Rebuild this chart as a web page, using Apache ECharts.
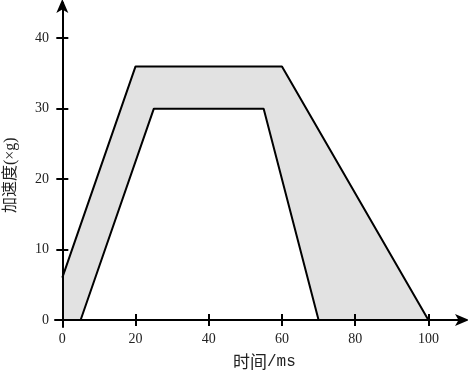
<!DOCTYPE html>
<html><head><meta charset="utf-8">
<script src="https://cdn.jsdelivr.net/npm/echarts@6/dist/echarts.min.js"></script>
<style>html,body{margin:0;padding:0;background:#fff}#c{width:468px;height:371px}</style>
</head><body><div id="c"></div>
<script>
const upperX = [0, 20, 60, 100];
const upperY = [6, 36, 36, 0];
const lowerX = [0, 5, 25, 55, 70];
const lowerY = [0, 0, 30, 30, 0];
const xTicks = [0, 20, 40, 60, 80, 100];
const yTicks = [0, 10, 20, 30, 40];
const xNameCJK = '时间';
const xNameUnit = '/ms';
const yName = '加速度(×g)';

const font = '"Liberation Serif", "Noto Sans CJK SC", serif';
const chart = echarts.init(document.getElementById('c'));
const axisCommon = {
  type: 'value', z: 5,
  splitLine: {show: false},
  axisLine: {onZero: true, lineStyle: {color: '#000', width: 2}},
};
chart.setOption({
  animation: false,
  grid: {left: 55, right: 3, top: 3, bottom: 44},
  xAxis: [
    Object.assign({}, axisCommon, {
      min: -2, max: 110, position: 'bottom',
      axisLine: {onZero: true, symbol: ['none', 'arrow'], symbolSize: [9, 14], symbolOffset: [0, 4], lineStyle: {color: '#000', width: 2}},
      axisTick: {show: true, inside: false, length: 6, customValues: xTicks, lineStyle: {color: '#000', width: 2}},
      axisLabel: {customValues: xTicks, margin: 5, color: '#222', fontSize: 14, fontFamily: font}
    }),
    Object.assign({}, axisCommon, {
      min: -2, max: 110, position: 'bottom',
      axisLine: {show: false, onZero: true, onZeroAxisIndex: 0},
      axisTick: {show: true, inside: true, length: 6, customValues: xTicks, lineStyle: {color: '#000', width: 2}},
      axisLabel: {show: false}
    })
  ],
  yAxis: [
    Object.assign({}, axisCommon, {
      min: -1, max: 45, position: 'left',
      axisLine: {onZero: true, symbol: ['none', 'arrow'], symbolSize: [9, 14], symbolOffset: [0, 4], lineStyle: {color: '#000', width: 2}},
      axisTick: {show: true, inside: false, length: 6, customValues: yTicks, lineStyle: {color: '#000', width: 2}},
      axisLabel: {customValues: yTicks, margin: 6, color: '#222', fontSize: 14, fontFamily: font}
    }),
    Object.assign({}, axisCommon, {
      min: -1, max: 45, position: 'left',
      axisLine: {show: false, onZero: true, onZeroAxisIndex: 0},
      axisTick: {show: true, inside: true, length: 6, customValues: yTicks, lineStyle: {color: '#000', width: 2}},
      axisLabel: {show: false}
    })
  ],
  series: [
    {
      type: 'line', xAxisIndex: 0, yAxisIndex: 0, symbol: 'none', z: 2,
      data: upperX.map((x, i) => [x, upperY[i]]),
      lineStyle: {color: '#000', width: 2},
      areaStyle: {color: '#e2e2e2', opacity: 1, origin: 0}
    },
    {
      type: 'line', xAxisIndex: 0, yAxisIndex: 0, symbol: 'none', z: 3,
      data: lowerX.map((x, i) => [x, lowerY[i]]),
      lineStyle: {color: '#000', width: 2},
      areaStyle: {color: '#fff', opacity: 1, origin: 0}
    }
  ],
  graphic: [
    {type: 'text', left: 233, top: 353, z: 10,
      style: {text: '{a|' + xNameCJK + '}{b|' + xNameUnit + '}', fill: '#222',
        rich: {a: {fontSize: 17, fontFamily: '"Noto Sans CJK SC"'}, b: {fontSize: 16, fontFamily: '"Liberation Mono", monospace'}}}},
    {type: 'text', x: 3, y: 213, rotation: Math.PI / 2, z: 10,
      style: {text: yName, fontSize: 16, fontFamily: font, fill: '#222', textVerticalAlign: 'top'}}
  ]
});
</script></body></html>
